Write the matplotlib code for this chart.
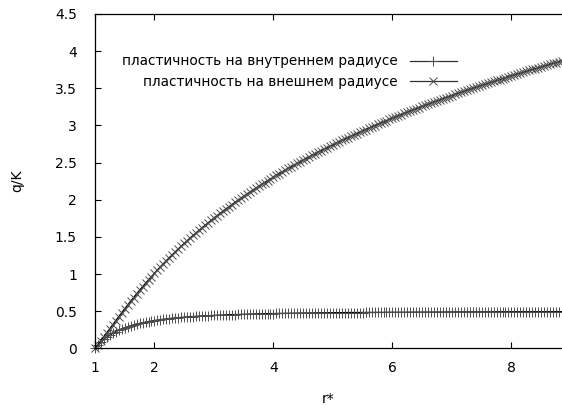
import matplotlib
matplotlib.use("Agg")
import matplotlib.pyplot as plt
import numpy as np

# r* sampled every 0.05 from 1 to 8.85
r_star = np.round(np.arange(1.0, 8.851, 0.05), 2)

# пластичность на внутреннем радиусе
q_inner = [
    0.000, 0.047, 0.087, 0.122, 0.153, 0.180, 0.204, 0.226, 0.245, 0.262,
    0.278, 0.292, 0.305, 0.316, 0.327, 0.337, 0.346, 0.354, 0.362, 0.369,
    0.375, 0.381, 0.387, 0.392, 0.397, 0.401, 0.406, 0.410, 0.413, 0.417,
    0.420, 0.423, 0.426, 0.429, 0.431, 0.434, 0.436, 0.438, 0.441, 0.443,
    0.444, 0.446, 0.448, 0.450, 0.451, 0.453, 0.454, 0.455, 0.457, 0.458,
    0.459, 0.460, 0.461, 0.463, 0.464, 0.464, 0.465, 0.466, 0.467, 0.468,
    0.469, 0.470, 0.470, 0.471, 0.472, 0.472, 0.473, 0.474, 0.474, 0.475,
    0.475, 0.476, 0.476, 0.477, 0.477, 0.478, 0.478, 0.479, 0.479, 0.480,
    0.480, 0.480, 0.481, 0.481, 0.482, 0.482, 0.482, 0.483, 0.483, 0.483,
    0.483, 0.484, 0.484, 0.484, 0.485, 0.485, 0.485, 0.485, 0.486, 0.486,
    0.486, 0.486, 0.487, 0.487, 0.487, 0.487, 0.487, 0.488, 0.488, 0.488,
    0.488, 0.488, 0.489, 0.489, 0.489, 0.489, 0.489, 0.489, 0.490, 0.490,
    0.490, 0.490, 0.490, 0.490, 0.490, 0.490, 0.491, 0.491, 0.491, 0.491,
    0.491, 0.491, 0.491, 0.491, 0.492, 0.492, 0.492, 0.492, 0.492, 0.492,
    0.492, 0.492, 0.492, 0.492, 0.493, 0.493, 0.493, 0.493, 0.493, 0.493,
    0.493, 0.493, 0.493, 0.493, 0.494, 0.494, 0.494, 0.494,
]

# пластичность на внешнем радиусе
q_outer = [
    0.000, 0.051, 0.104, 0.158, 0.212, 0.266, 0.321, 0.375, 0.428, 0.481,
    0.533, 0.585, 0.635, 0.685, 0.734, 0.783, 0.830, 0.877, 0.922, 0.967,
    1.011, 1.055, 1.097, 1.139, 1.180, 1.221, 1.260, 1.299, 1.338, 1.376,
    1.413, 1.449, 1.485, 1.520, 1.555, 1.589, 1.623, 1.656, 1.689, 1.721,
    1.753, 1.784, 1.815, 1.845, 1.875, 1.905, 1.934, 1.963, 1.991, 2.019,
    2.046, 2.074, 2.101, 2.127, 2.153, 2.179, 2.205, 2.230, 2.255, 2.279,
    2.304, 2.328, 2.352, 2.375, 2.399, 2.422, 2.444, 2.467, 2.489, 2.511,
    2.533, 2.554, 2.576, 2.597, 2.618, 2.639, 2.659, 2.679, 2.699, 2.719,
    2.739, 2.758, 2.778, 2.797, 2.816, 2.835, 2.853, 2.872, 2.890, 2.908,
    2.926, 2.944, 2.961, 2.979, 2.996, 3.014, 3.031, 3.048, 3.064, 3.081,
    3.097, 3.114, 3.130, 3.146, 3.162, 3.178, 3.194, 3.209, 3.225, 3.240,
    3.255, 3.271, 3.286, 3.301, 3.315, 3.330, 3.345, 3.359, 3.374, 3.388,
    3.402, 3.416, 3.430, 3.444, 3.458, 3.472, 3.485, 3.499, 3.512, 3.525,
    3.539, 3.552, 3.565, 3.578, 3.591, 3.604, 3.616, 3.629, 3.642, 3.654,
    3.667, 3.679, 3.691, 3.704, 3.716, 3.728, 3.740, 3.752, 3.764, 3.775,
    3.787, 3.799, 3.810, 3.822, 3.833, 3.845, 3.856, 3.867,
]

x_ticks = [1, 2, 4, 6, 8]
y_ticks = [0, 0.5, 1, 1.5, 2, 2.5, 3, 3.5, 4, 4.5]
y_tick_labels = ["0", "0.5", "1", "1.5", "2", "2.5", "3", "3.5", "4", "4.5"]

plt.rcParams["font.family"] = ["DejaVu Sans"]
plt.rcParams["font.size"] = 10

fig = plt.figure(figsize=(5.62, 4.08), dpi=100)
ax = fig.add_axes([0.169, 0.146, 0.831, 0.820])

ax.plot(r_star, q_inner, color="black", lw=1.0, marker="+", ms=7.5, mew=0.7,
        mec="0.3", clip_on=False, label="пластичность на внутреннем радиусе")
ax.plot(r_star, q_outer, color="black", lw=1.0, marker="x", ms=6, mew=0.7,
        mec="0.3", clip_on=False, label="пластичность на внешнем радиусе")

ax.set_xlim(1, 8.85)
ax.set_ylim(0, 4.5)
ax.set_xticks(x_ticks)
ax.set_yticks(y_ticks)
ax.set_yticklabels(y_tick_labels)

ax.spines["right"].set_visible(False)
for s in ["left", "bottom", "top"]:
    ax.spines[s].set_linewidth(0.9)
ax.tick_params(direction="in", length=4, width=0.8, top=True, right=False,
               labelsize=10)
ax.tick_params(axis="x", pad=9)
ax.tick_params(axis="y", pad=13)

ax.set_xlabel("r*", fontsize=10, labelpad=12)
ax.set_ylabel("q/K", fontsize=10, labelpad=22)

leg = ax.legend(loc="upper right", bbox_to_anchor=(0.786, 0.895), markerfirst=False,
                frameon=False, numpoints=1, handlelength=3.4, handletextpad=0.9,
                labelspacing=0.5, fontsize=9.8, borderaxespad=0)
for line in leg.get_lines():
    line.set_color("0.2")
    line.set_linewidth(0.9)

fig.savefig("out.png", dpi=100)
